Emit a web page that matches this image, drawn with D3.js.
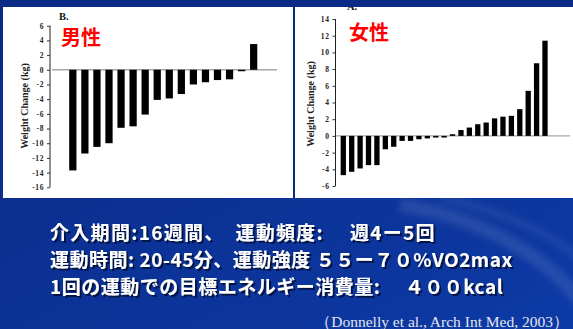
<!DOCTYPE html>
<html>
<head>
<meta charset="utf-8">
<script src="https://cdn.jsdelivr.net/npm/d3@7"></script>
<style>
  html, body { margin: 0; padding: 0; background: #0b2d8f; }
  svg { display: block; }
</style>
</head>
<body>
<svg id="chart" width="573" height="329"></svg>
<script>
// Weight change per participant (kg), sorted from largest loss to largest gain
const maleChange = [-13.7, -11.4, -10.5, -10.0, -7.9, -7.7, -6.1, -4.1, -3.9, -3.3, -2.0, -1.7, -1.4, -1.3, -0.2, 3.5];
const femaleChange = [-4.7, -4.3, -3.9, -3.5, -3.5, -1.6, -1.3, -0.6, -0.6, -0.4, -0.3, -0.2, -0.2, 0.2, 0.7, 1.0, 1.4, 1.6, 2.1, 2.3, 2.4, 3.2, 5.4, 8.7, 11.4];
const maleTicks = [6, 4, 2, 0, -2, -4, -6, -8, -10, -12, -14, -16];
const femaleTicks = [14, 12, 10, 8, 6, 4, 2, 0, -2, -4, -6];
const panelTitles = ["男性", "女性"];
const axisTitle = "Weight Change (kg)";
const noteLines = [
  "介入期間:16週間、　運動頻度:　 週4ー5回",
  "運動時間: 20-45分、運動強度  ５５ー７０%VO2max",
  "1回の運動での目標エネルギー消費量:　 ４００kcal"
];
const noteSpacing = [1.3, 0.5, 0.5];
const citation = "（Donnelly et al., Arch Int Med, 2003）";

const svg = d3.select("#chart");
const W = 573, H = 329;

// Background with a soft swoosh in the lower right
const defs = svg.append("defs");
const bg = defs.append("linearGradient").attr("id", "bg").attr("x1", 0).attr("y1", 0).attr("x2", 1).attr("y2", 1);
bg.append("stop").attr("offset", 0).attr("stop-color", "#0a2a86");
bg.append("stop").attr("offset", 1).attr("stop-color", "#0d3aa6");
const sw = defs.append("filter").attr("id", "soft").attr("x", "-20%").attr("y", "-20%").attr("width", "140%").attr("height", "140%");
sw.append("feGaussianBlur").attr("stdDeviation", 3);
const shadow = defs.append("filter").attr("id", "shadow").attr("x", "-5%").attr("y", "-30%").attr("width", "110%").attr("height", "160%");
shadow.append("feDropShadow").attr("dx", 2).attr("dy", 2).attr("stdDeviation", 0.6)
  .attr("flood-color", "#020b35").attr("flood-opacity", 0.85);

svg.append("rect").attr("width", W).attr("height", H).attr("fill", "url(#bg)");
svg.append("path")
  .attr("d", "M400,205 C470,215 540,250 580,300")
  .attr("fill", "none").attr("stroke", "#ffffff").attr("stroke-opacity", 0.10)
  .attr("stroke-width", 14).attr("filter", "url(#soft)");
svg.append("path")
  .attr("d", "M440,198 C500,210 560,235 590,270")
  .attr("fill", "none").attr("stroke", "#ffffff").attr("stroke-opacity", 0.07)
  .attr("stroke-width", 8).attr("filter", "url(#soft)");

// White figure panels
svg.append("rect").attr("x", 3).attr("y", 7).attr("width", 290).attr("height", 191).attr("fill", "#fff");
svg.append("rect").attr("x", 295).attr("y", 7).attr("width", 278).attr("height", 191).attr("fill", "#fff");

const tickFmt = d => String(d);

function drawPanel(cfg) {
  const g = svg.append("g");
  const y = d3.scaleLinear().domain(cfg.domain).range(cfg.yRange);
  const x = d3.scaleBand().domain(d3.range(cfg.values.length))
    .range(cfg.xRange).paddingInner(cfg.pad).paddingOuter(cfg.pad / 2);

  // zero reference line
  g.append("line")
    .attr("x1", cfg.zeroFrom).attr("x2", cfg.zeroTo)
    .attr("y1", y(0)).attr("y2", y(0))
    .attr("stroke", "#a8a8a8").attr("stroke-width", 1.4);

  // bars
  g.selectAll("rect.bar").data(cfg.values).join("rect")
    .attr("class", "bar")
    .attr("x", (d, i) => x(i))
    .attr("width", x.bandwidth())
    .attr("y", d => Math.min(y(d), y(0)))
    .attr("height", d => Math.abs(y(d) - y(0)))
    .attr("fill", "#000");

  // y axis
  const axis = d3.axisLeft(y).tickValues(cfg.ticks).tickFormat(tickFmt).tickSize(3).tickPadding(3);
  const ag = g.append("g").attr("transform", `translate(${cfg.axisX},0)`).call(axis);
  ag.select(".domain").attr("stroke", "#222").attr("stroke-width", 1).attr("d", `M0,${cfg.yRange[1]}V${cfg.yRange[0]}`);
  ag.selectAll(".tick line").attr("stroke", "#333");
  ag.selectAll(".tick text")
    .attr("font-family", "'Liberation Serif', 'DejaVu Serif', serif")
    .attr("font-weight", "bold").attr("font-size", 7.5).attr("letter-spacing", 0.6).attr("fill", "#222");

  // axis title
  g.append("text")
    .attr("transform", `translate(${cfg.titleX},${cfg.titleY}) rotate(-90)`)
    .attr("text-anchor", "middle")
    .attr("font-family", "'Liberation Serif', 'DejaVu Serif', serif")
    .attr("font-weight", "bold").attr("font-size", 10).attr("fill", "#222")
    .text(axisTitle);

  // panel title in red
  g.append("text")
    .attr("x", cfg.nameX).attr("y", cfg.nameY)
    .attr("font-family", "'Noto Sans CJK JP', sans-serif")
    .attr("font-weight", "bold").attr("font-size", 20).attr("fill", "#ff0000")
    .text(cfg.name);
}

drawPanel({
  values: maleChange, domain: [-16, 6], yRange: [187.3, 25.7], ticks: maleTicks,
  xRange: [66.8, 259.7], pad: 0.4, axisX: 50, zeroFrom: 52, zeroTo: 277,
  titleX: 28, titleY: 106, name: panelTitles[0], nameX: 61, nameY: 45
});
drawPanel({
  values: femaleChange, domain: [-6, 14], yRange: [186, 19], ticks: femaleTicks,
  xRange: [339.1, 549.2], pad: 0.37, axisX: 335.5, zeroFrom: 336, zeroTo: 570,
  titleX: 314, titleY: 104, name: panelTitles[1], nameX: 349, nameY: 40
});

// Figure letters
svg.append("text").attr("x", 59).attr("y", 20)
  .attr("font-family", "'Liberation Serif', serif").attr("font-weight", "bold").attr("font-size", 10.5)
  .attr("fill", "#111").text("B.");
svg.append("text").attr("x", 347).attr("y", 10)
  .attr("font-family", "'Liberation Serif', serif").attr("font-weight", "bold").attr("font-size", 10.5)
  .attr("fill", "#111").text("A.");

// top band drawn above the panels
svg.append("rect").attr("x", 0).attr("y", 0).attr("width", W).attr("height", 7).attr("fill", "#0a2a86");
svg.append("rect").attr("x", 293).attr("y", 0).attr("width", 2).attr("height", 198).attr("fill", "#0a2a86");

// Study notes with a dark drop shadow
const notes = svg.append("g")
  .attr("font-family", "'Noto Sans CJK JP', sans-serif")
  .attr("font-weight", "bold").attr("font-size", 19)
  .attr("filter", "url(#shadow)");
noteLines.forEach((t, i) => {
  notes.append("text").attr("x", 50).attr("y", 240 + i * 27)
    .attr("letter-spacing", noteSpacing[i]).attr("fill", "#ffffff").text(t);
});

svg.append("text").attr("x", 569).attr("y", 327)
  .attr("text-anchor", "end")
  .attr("font-family", "'Liberation Serif', serif").attr("font-size", 15.5)
  .attr("fill", "#e2e5ee").text(citation);
</script>
</body>
</html>
